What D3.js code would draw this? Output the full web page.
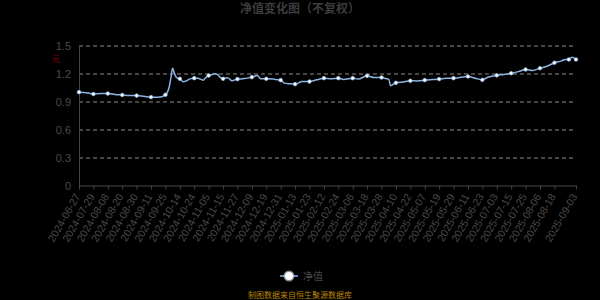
<!DOCTYPE html>
<html>
<head>
<meta charset="utf-8">
<script src="https://cdn.jsdelivr.net/npm/d3@7/dist/d3.min.js"></script>
<style>
  body { margin: 0; background: #000; }
  svg { display: block; font-family: "Noto Sans CJK SC", "Noto Sans", sans-serif; }
</style>
</head>
<body>
<div id="chart"></div>
<script>
// tick labels and the point index where each one sits
const tickLabels = [
  "2024-06-27", "2024-07-29", "2024-08-08", "2024-08-20", "2024-08-30",
  "2024-09-11", "2024-09-25", "2024-10-14", "2024-10-24", "2024-11-05",
  "2024-11-15", "2024-11-27", "2024-12-09", "2024-12-19", "2024-12-31",
  "2025-01-13", "2025-01-23", "2025-02-12", "2025-02-24", "2025-03-06",
  "2025-03-18", "2025-03-28", "2025-04-10", "2025-04-22", "2025-05-07",
  "2025-05-19", "2025-05-29", "2025-06-11", "2025-06-23", "2025-07-03",
  "2025-07-15", "2025-07-25", "2025-08-06", "2025-08-18", "2025-09-03",
];
const tickIndex = [
  0, 8, 16, 24, 32, 40, 48, 56, 64, 72, 80, 88, 96, 104, 112, 120, 128,
  136, 144, 152, 160, 168, 176, 184, 192, 200, 208, 216, 224, 232, 240,
  248, 256, 264, 276,
];
const lastIndex = 276;

// net value readings: point index and value
const navIndex = [
  0, 4, 8, 12, 16, 20, 24, 28, 32, 36, 40, 44, 48, 50, 51, 52, 53, 54, 56,
  58, 60, 62, 64, 66, 68, 69, 70, 72, 74, 75, 77, 78, 80, 82, 83, 85, 88,
  91, 96, 99, 101, 104, 108, 112, 114, 117, 120, 124, 128, 132, 136, 140,
  144, 147, 152, 155, 160, 164, 168, 171, 172, 173, 176, 180, 184, 188, 192,
  196, 200, 204, 208, 212, 216, 220, 224, 227, 232, 236, 240, 244, 248, 252,
  256, 260, 264, 268, 270, 272, 274, 276,
];
const navValues = [
  1.0, 0.995, 0.98, 0.985, 0.985, 0.975, 0.97, 0.965, 0.963, 0.955, 0.947,
  0.945, 0.972, 1.05, 1.15, 1.255, 1.2, 1.16, 1.143, 1.112, 1.125, 1.145,
  1.15, 1.148, 1.135, 1.128, 1.15, 1.178, 1.19, 1.197, 1.19, 1.165, 1.143,
  1.155, 1.15, 1.122, 1.14, 1.143, 1.161, 1.178, 1.143, 1.143, 1.14, 1.129,
  1.097, 1.09, 1.086, 1.114, 1.114, 1.132, 1.15, 1.143, 1.15, 1.136, 1.15,
  1.14, 1.175, 1.157, 1.157, 1.143, 1.14, 1.07, 1.1, 1.11, 1.122, 1.12,
  1.129, 1.135, 1.14, 1.15, 1.15, 1.16, 1.168, 1.15, 1.132, 1.16, 1.18,
  1.19, 1.203, 1.22, 1.243, 1.232, 1.257, 1.278, 1.315, 1.335, 1.35, 1.35,
  1.375, 1.35,
];
const yTicks = [0, 0.3, 0.6, 0.9, 1.2, 1.5];

const data = navIndex.map((i, k) => ({ i, v: navValues[k] }));

const W = 600, H = 300;
const margin = { top: 45.5, right: 24, bottom: 114.5, left: 79 },
  width = W - margin.left - margin.right,
  height = H - margin.top - margin.bottom;

const svg = d3
  .select("#chart")
  .append("svg")
  .attr("width", W)
  .attr("height", H);

svg.append("rect").attr("width", W).attr("height", H).attr("fill", "#000");

// title
svg
  .append("text")
  .attr("x", W / 2)
  .attr("y", 13)
  .attr("text-anchor", "middle")
  .attr("font-size", 12)
  .attr("font-weight", "bold")
  .attr("fill", "#3c3c3c")
  .text("净值变化图（不复权）");

const g = svg
  .append("g")
  .attr("transform", "translate(" + margin.left + "," + margin.top + ")");

const x = d3.scaleLinear().domain([0, lastIndex]).range([0, width]);
const y = d3.scaleLinear().domain([0, 1.5]).range([height, 0]);

// grid lines
g.append("g")
  .selectAll("line")
  .data(yTicks.filter((d) => d > 0))
  .enter()
  .append("line")
  .attr("x1", 0)
  .attr("x2", width)
  .attr("y1", (d) => Math.round(y(d)) + 0.5)
  .attr("y2", (d) => Math.round(y(d)) + 0.5)
  .attr("stroke", "#8a8a8a")
  .attr("stroke-dasharray", "4,3");

// y axis
const yAxis = g
  .append("g")
  .call(d3.axisLeft(y).tickValues(yTicks).tickSize(0).tickPadding(8).tickFormat((d) => d));
yAxis.select(".domain").attr("stroke", "#444");
yAxis.selectAll("text").attr("fill", "#4a4a4a").attr("font-size", 11);

// axis name
g.append("text")
  .attr("x", -23)
  .attr("y", 16)
  .attr("text-anchor", "middle")
  .attr("font-size", 8)
  .attr("fill", "#8b0000")
  .text("元");

// x axis
const xAxis = g
  .append("g")
  .attr("transform", "translate(0," + height + ")")
  .call(
    d3
      .axisBottom(x)
      .tickValues(tickIndex)
      .tickSize(4)
      .tickSizeOuter(0)
      .tickFormat((d, k) => tickLabels[k])
  );
xAxis.select(".domain").attr("stroke", "#444");
xAxis.selectAll("line").attr("stroke", "#444");
xAxis
  .selectAll("text")
  .attr("fill", "#4a4a4a")
  .attr("font-size", 10.5)
  .attr("text-anchor", "end")
  .attr("dy", "0.35em")
  .attr("transform", "translate(-2,9) rotate(-60)")
  .attr("y", 0)
  .attr("x", 0);

// net value line
const line = d3
  .line()
  .x((d) => x(d.i))
  .y((d) => y(d.v))
  .curve(d3.curveMonotoneX);

g.append("path")
  .datum(data)
  .attr("fill", "none")
  .attr("stroke", "#8db3e2")
  .attr("stroke-width", 1.5)
  .attr("d", line);

// symbols shown at every 8th point plus the last one
g.append("g")
  .selectAll("circle")
  .data(data.filter((d) => d.i % 8 === 0 || d.i === lastIndex))
  .enter()
  .append("circle")
  .attr("cx", (d) => x(d.i))
  .attr("cy", (d) => y(d.v))
  .attr("r", 1.8)
  .attr("fill", "#fff")
  .attr("stroke", "#8db3e2")
  .attr("stroke-width", 0.8);

// legend
const lg = svg.append("g").attr("transform", "translate(289,276)");
lg.append("line")
  .attr("x1", -9)
  .attr("x2", 9)
  .attr("stroke", "#8db3e2")
  .attr("stroke-width", 1.5);
lg.append("circle").attr("r", 5.5).attr("fill", "#cfe3ff").attr("opacity", 0.6);
lg.append("circle").attr("r", 4).attr("fill", "#fff");
lg.append("text")
  .attr("x", 14)
  .attr("y", 4)
  .attr("font-size", 10)
  .attr("fill", "#4a4a4a")
  .text("净值");

// source note
svg
  .append("text")
  .attr("x", W / 2)
  .attr("y", 298)
  .attr("text-anchor", "middle")
  .attr("font-size", 8)
  .attr("fill", "#b8860b")
  .text("制图数据来自恒生聚源数据库");
</script>
</body>
</html>
